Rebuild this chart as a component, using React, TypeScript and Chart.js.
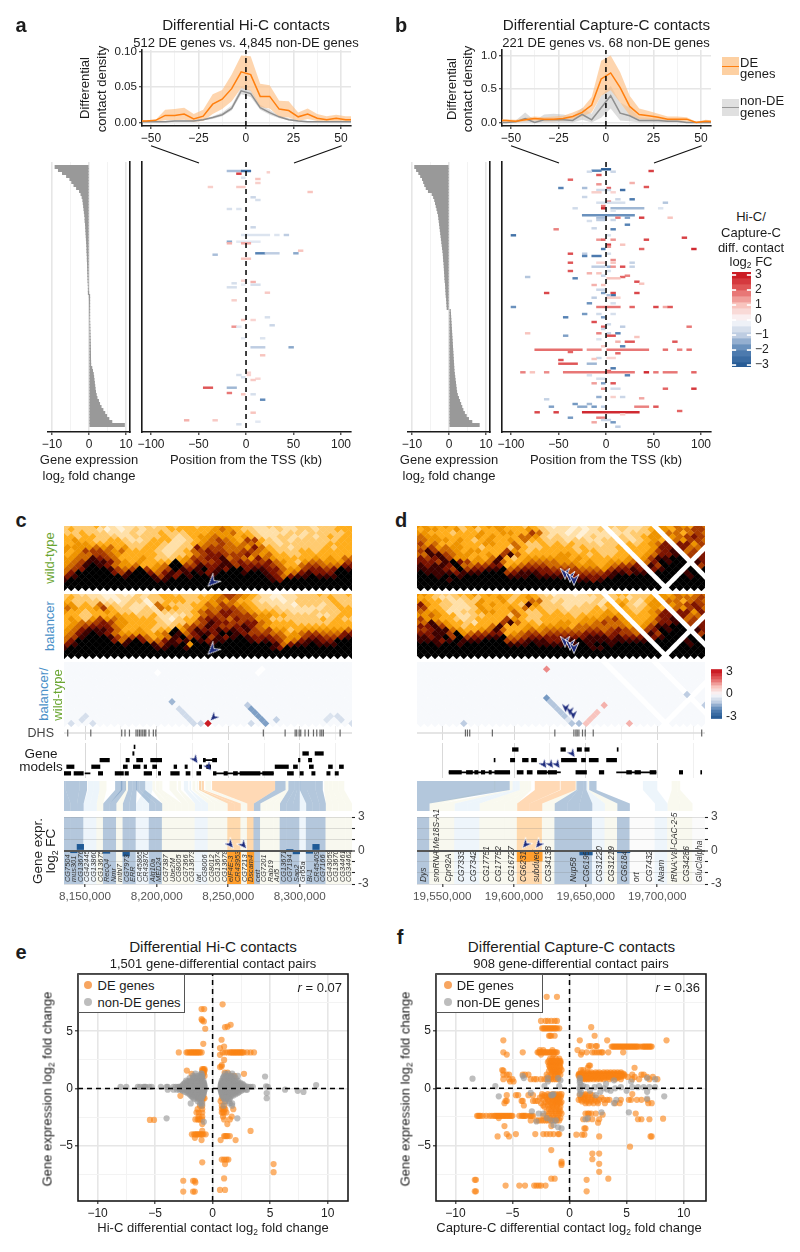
import React, { useEffect, useRef } from "react";
import { Chart, registerables } from "chart.js";
Chart.register(...registerables);

const F = '"Liberation Sans", Arial, sans-serif';

/* ---------- profile panels a / b ---------- */
const binMid = [-57.5,-52.5,-47.5,-42.5,-37.5,-32.5,-27.5,-22.5,-17.5,-12.5,-7.5,-2.5,2.5,7.5,12.5,17.5,22.5,27.5,32.5,37.5,42.5,47.5,52.5,57.5];
const hicDEMean = [.002,.002,.003,.010,.010,.012,.005,.009,.026,.033,.048,.072,.068,.037,.037,.019,.017,.008,.012,.006,.004,.006,.004,.004];
const hicDEHigh = [.003,.003,.004,.018,.019,.021,.012,.018,.040,.046,.068,.095,.094,.055,.053,.031,.030,.014,.020,.012,.009,.011,.009,.009];
const hicDELow = [.001,.001,.001,.003,.003,.004,.001,.002,.012,.019,.030,.049,.045,.022,.020,.008,.007,.002,.005,.002,.001,.002,.001,.001];
const hicNonMean = [.001,.001,.001,.001,.002,.002,.002,.004,.007,.011,.020,.045,.041,.021,.014,.008,.004,.002,.001,.001,.001,.001,.001,.001];
const hicNonHigh = [.002,.002,.002,.002,.003,.003,.003,.005,.009,.014,.024,.050,.046,.025,.018,.010,.006,.003,.002,.002,.002,.002,.002,.002];
const hicNonLow = [.0005,.0005,.0005,.0005,.001,.001,.001,.003,.005,.009,.017,.040,.036,.018,.011,.006,.003,.001,.0005,.0005,.0005,.0005,.0005,.0005];
const capDEMean = [.03,.03,.02,.04,.06,.05,.05,.06,.09,.15,.26,.65,.74,.52,.24,.12,.10,.08,.05,.05,.05,.0,.02,.01];
const capDEHigh = [.05,.05,.04,.07,.09,.08,.09,.10,.15,.21,.38,.92,1.0,.75,.40,.21,.17,.13,.09,.09,.08,.01,.04,.03];
const capDELow = [.01,.01,.0,.02,.03,.02,.02,.03,.05,.09,.15,.40,.48,.30,.11,.05,.04,.03,.02,.02,.01,.0,.0,.0];
const capNonMean = [.0,.0,.01,.06,.0,.04,.04,.04,.03,.12,.04,.22,.40,.14,.10,.03,.03,.03,.02,.02,.0,.0,.0,.0];
const capNonHigh = [.0,.0,.03,.15,.03,.12,.13,.12,.09,.22,.13,.40,.55,.30,.22,.08,.07,.06,.05,.05,.01,.0,.0,.0];
const capNonLow = [.0,.0,.0,.0,.0,.0,.0,.0,.0,.04,.0,.07,.21,.03,.02,.0,.0,.0,.0,.0,.0,.0,.0,.0];

/* ---------- sorted expression, one value per gene-group row ---------- */
const hicExpr = [-9.2,-8.3,-7.2,-6.1,-5.2,-4.7,-4.1,-3.4,-2.6,-2.2,-1.9,-1.7,-1.6,-1.5,-1.4,-1.3,-1.2,-1.1,-1.1,-1,-.95,-.9,-.85,-.8,-.75,-.7,-.65,-.6,-.6,-.55,-.5,-.5,-.45,-.42,-.4,-.38,-.35,-.32,-.3,-.25,-.2,-.15,-.05,.05,.08,.1,.12,.14,.16,.18,.2,.22,.24,.26,.28,.3,.32,.34,.36,.38,.4,.42,.44,.45,.46,.48,.5,.8,1,1.2,1.3,1.4,1.5,1.6,1.7,1.8,2,2.2,2.6,2.9,3.3,3.8,4.3,4.8,5.4,6.2,9.6];
const capExpr = [-9.3,-8.8,-8.2,-7.7,-7.2,-6.9,-6.6,-6.2,-5.6,-4.6,-4.2,-3.9,-3.7,-3.5,-3.3,-3.1,-2.9,-2.8,-2.7,-2.6,-2.5,-2.4,-2.3,-2.2,-2.1,-2,-1.9,-1.8,-1.7,-1.6,-1.55,-1.5,-1.4,-1.35,-1.3,-1.25,-1.2,-1.15,-1.1,-1,-.95,-.9,-.85,-.8,-.7,-.65,-.6,-.55,.4,.45,.5,.55,.6,.65,.7,.75,.8,.85,.9,.95,1,1.05,1.1,1.15,1.2,1.25,1.3,1.35,1.4,1.5,1.6,1.7,1.8,1.9,2,2.1,2.3,2.6,2.9,3.2,3.5,3.8,4.2,4.7,5.3,6.2,8.2];

/* ---------- differential contacts: [gene rank, start kb, end kb, log2FC] ---------- */
const hicSegments = [
[9,-20,-5,-1.2],[9,-5,5,-2.5],[10.3,22,25,.8],[11.7,-10,-5,2.5],[15.7,-5,0,-.5],[17,10,15,1],[21,10,15,.8],[25,-40,-35,.8],[25,-10,0,.9],[30,65,70,1],[35.3,5,10,-.8],[38,10,15,-.6],[47,-20,-15,-.6],[47,-10,-5,-.5],[65.3,5,10,-.8],[73,-5,25,-.5],[73,30,35,-.5],[73,40,45,-1],[79.7,-20,-15,-1.5],[79.7,-10,15,-.4],[81.3,-20,-15,1.2],[81.3,-5,5,1.3],[88.7,55,60,1],[91.3,10,20,-2],[91.3,20,35,-1],[91.3,50,55,-1.5],[92.7,-35,-30,-1.2],[96.7,-5,5,1],
[118.7,-5,0,.7],[120,5,10,1.2],[121.3,-15,-10,-.6],[122.7,-5,0,-.3],[122.7,5,15,-.6],[125.3,-20,-10,-.6],[130.7,20,25,.9],[138.3,-15,-10,.8],[155.3,20,25,-.6],[158,-5,0,1],[158,5,10,.7],[163.3,25,30,-.8],[164.7,-15,-10,1.5],[164.7,-10,-5,-.4],[176.3,-5,0,-.4],[176.3,15,20,-.5],[185.3,5,20,-1],[185.3,45,50,-1.5],[193.3,15,20,1],[210.7,0,5,.7],[213,-10,-5,-.6],[213,0,5,.7],[215.3,-5,0,-.6],[216.7,10,15,.7],[218,5,10,.9],[225.7,-45,-35,2.2],[225.7,-20,-10,-1.3],[231,-20,-15,1.8],[232.3,-5,0,1],[232.3,5,10,-.6],[237.7,15,20,-1.9],[250.7,5,10,1],[258.3,-65,-60,1.2],[258.3,-35,-30,.9],[259.7,10,15,-.4],[262.3,-10,-5,-.6]];
const capSegments = [
[7.3,-5,5,-3],[8.7,-15,-5,-2],[9,45,50,2.5],[9.7,-20,-15,-.7],[9.7,5,10,-.8],[13,-10,-5,2.2],[17.7,-40,-35,2],[21,25,30,1.2],[22.3,-10,-5,1.5],[25,40,45,2.2],[26,-50,-45,-2],[26,-25,-20,-1.2],[26,0,5,2],[28,15,20,-2.5],[28,-10,5,-.7],[30.3,-15,-5,.8],[30.3,5,10,.7],[35,-25,-20,-.8],[37.3,10,15,-.8],[37.3,25,30,-2.2],[39.7,0,5,2],[40.7,-10,20,-.6],[40.7,60,65,-1.1],[44,-5,0,1.8],[46.3,-35,-30,-.7],[46.3,-5,0,2.8],[46.3,5,40,-1.3],[46.3,55,60,-.5],[48.7,5,10,-.5],[53.3,-25,30,-1.8],[55.7,-10,0,-1.2],[55.7,10,15,1.8],[55.7,20,25,-1.6],[55.7,35,40,2.5],[55.7,65,70,1],[58,-10,0,-1],[58,5,10,-.8],[59,-20,-15,-.6],[62.7,20,25,-2],[66.3,-15,-10,-.8],[67.3,-55,-50,1.7],[67.3,5,10,-2],[73.3,-100,-95,-2.4],[73.3,0,5,-.5],[75.7,80,85,2.5],[77.7,-10,-5,1.5],[77.7,-5,0,2],[77.7,5,10,1.5],[77.7,40,45,2.4],[82.7,0,5,2.5],[82.7,15,20,1],[84.7,0,5,1.5],[87,35,40,2],[87,90,95,2.8],[87,-5,0,-2.2],[91.7,-40,-35,2.3],[91.7,-25,-20,-1],[91.7,0,5,-.6],[94,-25,-20,-2],[94,-15,-5,-2.2],[98,5,10,1.6],[100.7,-40,-35,2.2],[100.7,-10,0,.7],[100.7,5,10,1],[100.7,25,30,-.9],[104.7,-15,0,-1],[104.7,0,5,-1.4],[104.7,5,10,1.5],[104.7,15,20,2.3],[104.7,25,30,-.9],[109,-40,-35,2.2],[109,0,5,-.5],[111.3,-20,-15,1.2],[111.3,-10,-5,1],[113.7,-5,0,-.8],[113.7,20,25,1.7],[115,-85,-80,-1.1],[115,15,20,2],[116.3,-35,-30,-2],[116.3,0,15,1],[119.7,30,35,2.3],[121.7,35,40,1],[123,-15,-10,1.2],[123,-5,0,1],[127.7,-10,0,-.8],[131,-65,-60,2.4],[131,30,35,2.4],[131,5,10,2.4],[131,-5,0,-1.6],[133.3,5,10,-2.5],[133.3,0,5,-1.2],[135.7,-15,-10,-1],[135.7,0,15,.8],[141.3,-20,-15,-1.8],[141.3,5,10,-.6],[145,-100,-95,-1.8],[145,-10,15,1.8],[145,25,30,2],[145,50,55,2.4],[145,60,65,1.3],[145,65,70,2.2],[152,-25,-20,-1.7],[152,-10,-5,-.7],[152,5,10,-.6],[155.3,-45,-40,-2],[155.3,-5,0,-1.6],[160,-15,-10,2.3],[162.3,0,5,-.7],[164.7,-5,0,2],[164.7,15,20,-1],[164.7,85,90,1.8],[167,-5,0,-.8],[171.3,-85,-80,1],[171.3,-10,-5,1.7],[171.3,10,15,-2],[171.3,0,5,-.9],[173.7,-45,-40,-1.6],[173.7,0,10,2.3],[175,30,35,1],[177.3,-10,-5,-.5],[179.7,10,15,1.2],[179.7,20,30,2.2],[179.7,70,75,2.2],[184.3,15,20,-2],[184.3,-5,0,.9],[187.7,-75,-25,1.9],[187.7,-20,-5,1.5],[187.7,0,45,1.8],[187.7,60,65,1.9],[187.7,75,80,1.7],[187.7,85,90,1.9],[190,-40,-35,2],[191.3,10,15,2],[196,-10,-5,-.8],[196,0,10,.7],[197,-15,-10,1],[198,-50,-45,2.3],[201.7,-50,-30,2.2],[201.7,-20,-10,-1.3],[206.3,5,10,-2.2],[209,0,5,2],[210.3,-90,-85,1.7],[210.3,-80,-75,1],[210.3,-65,-60,1.6],[210.3,-45,30,1.8],[210.3,40,45,2.8],[210.3,50,55,1.8],[210.3,60,75,1.8],[210.3,90,95,2],[213.3,-20,-15,-.6],[213.3,20,25,-2],[216.7,-10,0,-.6],[221.3,-5,0,-1.6],[221.3,-15,-10,1.4],[221.3,5,10,2.2],[226.7,-5,0,1.5],[226.7,5,15,-.7],[226.7,60,65,2],[226.7,90,95,2.6],[235,-10,-5,-1.4],[235,5,10,.8],[235,15,20,-.8],[236.3,35,40,1.3],[237.3,-65,-60,-.9],[242,-35,-30,-1.7],[242,-20,-15,-1.3],[244.7,-60,-55,-1.6],[244.7,-30,-20,-1.5],[244.7,-15,-10,-1.7],[244.7,-5,0,-1],[244.7,30,45,1.7],[244.7,50,55,2.2],[249,75,80,2],[250.3,-75,-70,2.4],[250.3,-55,-50,2.5],[250.3,-25,35,2.8],[252.3,15,20,.8],[255.7,-40,-35,-1.7],[255.7,-10,0,1.7],[258,-5,5,-.8],[260.3,-15,-10,1.3],[260.3,5,10,-1.7],[264.7,10,15,-1]];

/* ---------- contact maps: rows from far (top) to near (bottom), colour class 0-9 ---------- */
const N9 = "9999999999999999999999999999999999999999";
const mapCWild = ["2222321011121232332334433211221122122233","2322210101212223333334543221112112212233","2232221112122322233344453321111221222223","3323322211222232123445443432112211212323","3433223321123331123456543663212122222233","3344333332223321123455654554221222222333","4444545342233211227566555475322122223233","4346665453333211235676655665432223323333","3455665433333212235677666754533223333333","4455876533343222346677856547543333343435","4568887543433339457667867666754324554446","4568987544533459966877886777765335665557","5679998656964569878978799788775446776798","5799999768997578789878999899876457877799","7899999989998687989989999999875788988899","8999999999999889999999999999987999999999",N9,N9];
const mapCBal = ["2211100100212332222234665431101122232223","2322110011212233322334565432100112222322","3222211012202233322345453321110122222322","4423252212110532223354654432211102221232","5433463221121543223455665432221111112233","4332334322122122223565776543332211122223","3322333433223111123566766654433222211233","3432464543333210233677657664422222223232","3455676443333212235687766775433322222333","3456777543333222356687667875433333333333","4578887533432339468778787865644234444445","4578987544443459857887998766655345665557","5689998656753458967968789877765446776678","5799999758975578789878899987876457887799","7899999989998688949989999999985788988899","8999999999999889989999999999987999999999",N9,N9];
const mapDWild = ["4334323434443323210110011122211234354365","3443342323343334321110101211211234435566","4333233343344336521101011121122243553565","5443333343433355421211012112212344645676","5444343234334353322212211221212343654665","6453343334433532232323222122232345767746","5645443323332532233332322223233347767557","6865543443336432333333233222323346787567","5886544334368533333443323223333457787667","7678644343583234444443433333343468899577","7768976445853345555444343344456579899887","8788795566773456665555444345667686999786","8887696778895677776666555467787878999989","9888878889996788877776666678878889999899","9989989999998889888887777789999999999899","9999899999999999999999887899999999999999",N9,N9];
const mapDBal = ["4322233434333233210110122123322234354355","3321122323343234322111111212212234445556","4332112243342335521211112123321343553565","7432211243433328422211122134421244645676","6332111243334353322212223233322343654675","5443112234433532232322223343332345767747","4543311223332532233332333444333347787557","6443321233336432233333344456433346787567","5854332133368533233443445655433457787667","7786432333583334344443555555543468899577","6788543345853345455555566567654679899887","7788694566773456656666677767665686999786","8789696778895567777777788878777878999989","8887898889996678887788988888888889999899","9989989999998889888888989989999999999899","9999999999999999999999998899999999999999",N9,N9];
const mapBlank = Array(18).fill("0000000000000000000000000000000000000000");
const missingBinsD = [34, 41];
const heatPalette = ["#fff1d6","#ffe0a8","#ffcb70","#ffae1c","#ee9400","#cf6a00","#a83a00","#7d1400","#3c0200","#000000"];

/* ---------- balancer / wild-type cells: [bin, distance, log2FC] ---------- */
const diffCellsC = [[1,0,-.6],[2.5,1,-.6],[3,2,-.6],[4,0,-.6],[15,6,-1.3],[16,4,-.7],[16.5,3,-.7],[17,2,-.7],[17.5,1,-.7],[18,0,-.7],[19,0,-.8],[20,0,3],[25.5,5,-1],[26,0,-.7],[26,4,-1.6],[26.5,3,-1.6],[27,2,-1.6],[27.5,1,-1.6],[28,0,-1.6],[29.5,1,-.9],[36.5,1,-.5],[37,2,-.5],[38,2,-.6],[38.5,1,-.6],[40,0,-.6],[13,14,0],[27.5,15,0],[27,14,0]];
const diffCellsD = [[17.5,15,1.6],[17.5,7,-1.7],[18,6,-1.1],[18.5,5,-1.1],[19,4,-1.1],[19.5,3,-1.1],[20,2,-1.1],[20.5,1,-.5],[21,0,-1.1],[22,0,-1.2],[25.5,5,1.2],[23,0,1],[23.5,1,1],[24,2,1],[24.5,3,1],[29,0,1.2],[37,8,-1],[6,0,-1],[39.5,5,-1]];
const arrowsHeatC = [[20.6,1.5]];
const arrowsDiffC = [[20.8,1.7]];
const arrowsHeatD = [[20.06,3.8],[20.75,2.9],[21.3,2]];
const arrowsDiffD = [[20.15,4.3],[20.75,3.4],[21.2,2.4]];

/* ---------- DHS and gene models, kb ---------- */
const dhsC = [8137.9,8154,8175.6,8177.9,8181,8185.6,8186.8,8188,8189.1,8190.3,8191.4,8192.4,8194.7,8197.7,8199.4,8274.5,8289.7,8296.7,8297.8,8299.5,8300.6,8303.6,8306,8309.5,8311.8,8314.1,8315.3,8316.4,8328.1];
const dhsD = [19566.1,19567.5,19569.1,19584.9,19628.5,19641.8,19643.2,19644.1,19645.3,19647.8,19649.7,19655.3,19731];
const exonsC = [[0,8135.3,8140],[0,8142.3,8148.8],[0,8159.3,8162.3],[0,8171,8176.8],[0,8177.9,8180.3],[0,8191.2,8196.5],[0,8201.2,8202.8],[0,8209.8,8215.8],[0,8220.5,8223.3],[0,8228,8230.8],[0,8239.6,8241.5],[0,8247,8249.4],[0,8253.6,8256.4],[0,8258.2,8272.2],[0,8274,8281.5],[0,8291.3,8295.5],[0,8300.1,8302.4],[0,8308.3,8310.6],[0,8318.8,8321.1],[0,8324.6,8326.9],
[1,8137.2,8142.3],[1,8154.6,8160.4],[1,8176.7,8179.5],[1,8183.7,8188.4],[1,8191.2,8193],[1,8197.2,8200],[1,8212.1,8214],[1,8219.8,8221.4],[1,8229.8,8231.4],[1,8234.9,8237.7],[1,8282.7,8292],[1,8295.5,8298.3],[1,8306.6,8309.4],[1,8320,8322.7],[1,8327.6,8330.4],
[2,8160.4,8167],[2,8178.6,8180.9],[2,8186,8190.2],[2,8195.8,8203.5],[2,8232.6,8234],[2,8239,8241.9],[2,8299,8300.1],[2,8306,8308.3],
[3,8183.3,8184.2],[3,8302,8306],[3,8310.6,8316.4],[4,8184.2,8184.9]];
const intronsC = [[0,8150,8153.5],[0,8239.6,8281.5],[2,8232.6,8241.9]];
const exonsD = [[3.6,19598.9,19602.9],[3.6,19632.7,19635.9],[3.6,19644.1,19647.1],[3.6,19649.4,19652.5],[3.6,19672,19672.7],
[2,19586.1,19586.8],[2,19597.5,19600.5],[2,19605.9,19609.9],[2,19612.2,19615.7],[2,19633.1,19643.6],[2,19647.1,19649.9],[2,19652.5,19658.8],[2,19664.6,19671.6],
[.16,19554.7,19563.3],[.16,19566.8,19571],[.16,19572.6,19574.9],[.16,19577.2,19579.6],[.16,19582.6,19584.2],[.16,19586.6,19597],[.16,19602.2,19606.4],[.16,19609.2,19612.7],[.16,19616.4,19622.7],[.16,19623.8,19629.7],[.16,19643.2,19650.6],[.16,19659.5,19662.7],[.16,19678.6,19682],[.16,19684.4,19688.3],[.16,19694.9,19699.1],[.16,19715.4,19717.7],[.16,19730.3,19731]];
const intronsD = [[.16,19554.7,19597],[.16,19616.4,19632.4],[.16,19671.6,19699.1]];
const geneArrowsC = [[8226.8,2.1],[8236.1,1]];
const geneArrowsD = [[19640.6,3],[19620.8,1.35],[19625.5,1.35],[19630.1,1.35]];

/* ---------- gene columns ---------- */
const genesC = ["CG7504","mus301","CG13676","CG42445","CG13860","CG13675","RecQ4","Nmr","mthl7","CG7973","ERR","CR45865","CR43870","Alg10a","MED24","CG7387","Ube2M","CG8005","CG7366","CG13673","lat","CG8006","CG8012","CG13674","CG13678","eIF4E-3","CR43953","CG7213","Dscam4","cert","CG7201","Rab19","Arl5","CG13671","CG7194","Sap2","Gr65a","Bl-1","CR45409","CG7166","CG43059","CG13670","CG34461","CG34462"];
const classC = "bbbqqpbbpbbqqbbpppppqqpppoopobpppbbbqbbbpppp";
const exprC = [0,-.2,.55,0,0,0,-.25,0,0,-.5,0,0,0,-.07,0,0,0,0,0,0,0,0,0,0,0,-3,-3,0,-3,0,0,0,0,0,.1,-.3,0,-.25,.55,0,0,0,0,0];
const ribbonTopC = [[8135.3,8136.5],[8136.5,8146],[8146,8151.4],[8152,8156],[8156,8160],[8160,8165],[8171,8176],[8175,8178.6],[8178,8180],[8180,8183],[8183,8186],[8192,8194],[8194,8197],[8185.6,8188],[8188,8192],[8197,8199],[8199.5,8202],[8202,8204],[8209,8214],[8215,8217],[8219,8222],[8223,8224],[8225,8227],[8228,8229],[8230,8232],[8229.6,8231],[8231.5,8233],[8234,8238],[8238.7,8282.7],[8282.7,8290],[8290,8291],[8291,8291.8],[8291.8,8292],[8292,8296],[8296,8298],[8298,8300],[8300,8300.5],[8300,8305],[8305,8311],[8311,8316],[8317,8320],[8320,8323],[8323,8327],[8327,8331]];
const genesD = ["Dys","snoRNA:Me18S-A1","Cpr92A","CG7333","CG7342","CG17751","CG17752","CG16727","CG6231","subdued","CG34138","","Nup58","CG6195","CG31220","CG31219","CG6184","ort","CG7432","Naam","tRNA:Val-CAC-2-5","CG34286","GluClalpha"];
const classD = "bppqqpppoopbbbqpbwwqppw";
const exprD = [0,0,0,0,0,0,0,0,-1,-.95,0,-.03,-.1,-.4,0,0,-.2,0,0,0,0,0,0];
const ribbonTopD = [[19532.3,19597],[19586,19587],[19597,19599],[19599,19601],[19601,19604],[19604,19607],[19607,19610],[19610,19612],[19614.5,19632],[19632.5,19643],[19643,19643.6],[19643.6,19644.6],[19644.6,19648.3],[19648.3,19650.6],[19650.6,19651.5],[19651.5,19652.4],[19652.5,19657.6],[19660,19675],[19675,19690],[19690,19700],[19710,19714],[19714,19716],[19728,19733]];
const exprArrowsC = [[8251.3,.55],[8260.5,.5]];
const exprArrowsD = [[19608.2,.55],[19617.3,.55]];

/* ---------- scatter panels e / f: [y, [x...]] ---------- */
const hicDERows = [[7.35,[.87]],[6.94,[-.96,-.73]],[6.06,[-.96]],[5.95,[-.9]],[5.86,[-.76]],[5.22,[-.64]],[5.57,[1.57]],[5.4,[1.3]],[5.36,[1.08]],[4.26,[.78]],[3.9,[-.81]],[3.67,[1]],[3.53,[.64]],[2.94,[.64]],
[3.15,[-2.94,-2.27,-2.15,-2,-1.9,-1.8,-1.7,-1.6,-1.5,-1.4,-1.3,-1.2,-1.1,-.95,.87,1.1,1.3,1.5,1.6,1.7,1.8,1.9,2,2.1,2.2,2.3,2.4,2.5,2.6,2.7,3,3.3,3.6]],
[2.5,[1]],[2.05,[.8]],[1.92,[.78]],[1.87,[.64]],[1.7,[-.9,-.8,-.7]],[1.57,[-2.24,-.9,-.8,-.7]],[1.4,[-.9,-.75,1.05,1.3]],[1.28,[-1.83,2.73,-.8]],[1.1,[-.9,-.7,1.2,1.6,1.9]],[.6,[-1.4,1.2,1.7]],[.3,[-1.1,1.4]],[-.3,[-1.3,1.2]],
[-.64,[-2.8,-1,-.8,.9,1.1]],[-.85,[-1.2,-1.1,-1,-.9,-.8,-.7,.8,1,1.2]],[-1.1,[-.9,.7,1.1]],[-1.5,[-.9,-1.1,.8,1]],[-1.8,[-1.3,-.9,.8,.9,1,1.1,1.8]],[-2.1,[-1.4,-1.2,-.9,.8,.9,1,1.2]],[-2.45,[-.9,-1.2,.9,1.66]],[-2.7,[-1.5,-1.3,-1.2,-1.1,-.9,1,1.5]],[-3.1,[1.28,-.9]],[-3.7,[3.3,-.9]],[-4,[-1.8,-1.6,-1.5,-1.4,-1.3,-1.2,-1.1,-1,-.9,-.8,-.6]],[-4.15,[1,1.1,1.2,1.3,1.5]],[-4.3,[-1.54]],[-4.5,[-.96,.7,2]],
[-2.74,[-5.45,-5.09]],[-6.44,[-.9]],[-6.2,[.8,1,1.2,1.37]],[-6.6,[1.08,5.3]],[-7.3,[5.3]],[-7.85,[1]],[-8.05,[-2.55,-1.7,-1.55]],[-8.2,[-1.5]],[-9,[-2.55,-1.7,-1.55]],[-8.85,[.64,1.08]]];
const hicNonRows = [[.15,[-8,-7.5,-6.5,-6.3,-6,-5.9,-5.8,-5.5,-5.3,-4.5,-4,-3.9,-3.4,-3.2,-3,-2.9,3.1,3.3,3.5,4.8]],[-.1,[-3.9,-3.4,-3.1,-2.9,-2.7,2.9,3,6.3]],[.2,[4.65]],[.3,[9]],[-.2,[7.4]],[-.3,[7.9]],[1.05,[4.56]],[-.4,[4.7]],[-.85,[4.7]],[-2.6,[-4,2.15]],[-2.9,[-.76]],[-1.3,[-1.9]],
[1.3,[-1.5,-1,-.95,1.1,1.35,1.7]],[1.1,[-1.7,-1.4,-1.2,-1,-.9,1,1.2,1.5,1.8,2.2]],[.9,[-2,-1.7,-1.5,-1.3,-1.1,-.95,.9,1.1,1.3,1.5,1.7,2]],[.7,[-2.3,-2,-1.8,-1.6,-1.4,-1.2,-1,-.8,.8,1,1.2,1.4,1.6,1.9,2.2]],[.5,[-2.4,-2.1,-1.9,-1.7,-1.5,-1.3,-1.1,-.9,-.75,.75,.9,1.1,1.3,1.5,1.7,2,2.4]],[.3,[-2.6,-2.3,-2,-1.8,-1.6,-1.4,-1.2,-1,-.8,-.7,.7,.85,1,1.2,1.4,1.6,1.8,2.1,2.5,2.7]],[.1,[-2.8,-2.5,-2.2,-2,-1.8,-1.6,-1.4,-1.2,-1,-.8,-.7,.7,.85,1,1.2,1.4,1.6,1.8,2,2.3,2.6,2.8]],[-.1,[-2.7,-2.4,-2.1,-1.9,-1.7,-1.5,-1.3,-1.1,-.9,-.7,.7,.85,1,1.2,1.4,1.6,1.8,2,2.3,2.6]],[-.3,[-2.4,-2.1,-1.9,-1.7,-1.5,-1.3,-1.1,-.9,-.75,.75,.9,1.1,1.3,1.5,1.7,2,2.3]],[-.5,[-2,-1.8,-1.6,-1.4,-1.2,-1,-.8,.8,1,1.2,1.4,1.7,2]],[-.7,[-1.8,-1.5,-1.3,-1.1,-.9,.9,1.1,1.3,1.6]],[-.9,[-1.6,-1.3,-1,1,1.2,1.5]],[-1.1,[-1.3,-1,1.1,1.4]],[-1.3,[-1.1,-.9,1.5,1.7]],[-1.5,[-.95,.95,1.7]],
[1,[-1.6,-1.1,-.9,.95,1.4,1.65]],[.6,[-2.2,-1.9,-1.5,-1.1,-.85,.85,1.1,1.5,1.8,2.1]],[.4,[-2.5,-2.2,-1.8,-1.4,-1,-.75,.75,1,1.4,1.9,2.3,2.6]],[.2,[-2.7,-2.4,-1.9,-1.5,-1.1,-.72,.72,1.1,1.5,1.9,2.4,2.9]],[0,[-2.9,-2.6,-2.3,-1.9,-1.5,-1.1,-.72,.72,1.1,1.5,1.9,2.2,2.5,2.7]],[-.2,[-2.6,-2.2,-1.8,-1.4,-1,-.72,.72,1,1.4,1.9,2.2,2.5]],[-.4,[-2.2,-1.8,-1.4,-1,-.78,.78,1.1,1.5,1.9,2.2]],[-.6,[-1.9,-1.5,-1.1,-.85,.85,1.2,1.5,1.8]],[-.8,[-1.7,-1.2,-.95,.95,1.2,1.4]]];
const capDERows = [[8,[-2,-1.1]],[5.9,[-2.5,-2.1,-1.9,-1.6,-1.3,-1.1]],[5.25,[-2.4,-2.3,-2.2,-2.1,-2,-1.9,-1.8,-1.7,-1.6,-1.5,-1.4,-1.3,-1.2,-1.1,-.9]],[4.6,[-1.8,-1.7,-1.6,-1.3,2.2]],[5.35,[1.9]],[4.2,[-5.8,.9,3.3,8.5]],
[3.15,[-5.8,-4.1,-2.8,-2.7,-2.6,-2.5,-2.4,-2.3,-2.2,-2.1,-2,-1.9,-1.8,-1.7,-1.6,-1.5,-1.4,-1.3,-1.2,-1.1,1.1,1.5,2,2.2,2.4,2.6,2.8,2.9,3.4,4.7]],[3.35,[-2.6,-2.3,-1.5,.7]],[2.95,[-5.5,-2.5,-1.4,1]],[3.7,[1.7,1.9,2.3,2.4]],
[3.65,[3.7,3.8,3.9,4,4.1,4.2,4.3,4.4,4.5,4.6,4.7,4.8,4.9,5,5.1,5.2,5.3,5.4,5.5,5.6,5.7,5.8,5.9,6,6.2,6.4,6.5,6.6,6.7,6.8,6.9,7,7.1,7.2]],
[2.6,[-1.7,-1.5,-1.2,-.9]],[2.4,[-1.8,-1.6,-1.5,-1.4,-1.3,-1.1,-.9,-.8]],[2.3,[-1.9,-1.6,-1.4,-1.2,-1,-.8]],[2.2,[-1.7,-1.5,-1.3,-1.2,-1,-.8]],[2,[-1.8,-1.6,-1.4,-1.2,-.9,1.7,1.8]],[1.9,[-1.7,-1.5,-1.3,-1.1,-.85]],[1.8,[-1.7,-1.5,-1.3,-1.1,-.8,5.7,1.6]],[1.6,[-5.9,-1.6,-1.4,-1.2,-1,-.7,1,1.2]],[1.55,[-5.8]],[1.5,[-1.8,-1.5,-1.3,-1.1,-.9]],[1.4,[-1.5,-1.3,-1.1,-.9,1.2,1.6,1.9,2.3,2.6,3,3.3,3.6,3.9,4.2,4.5]],
[1.3,[.85,1,1.2,1.5,1.7,1.9,2.1,2.3,2.5,2.7,2.9,3.1,3.3,3.5,3.7,3.9,4.1,4.3,4.5,4.7]],
[1.2,[-5.8,-5.5,-5.3,-4.1,-3.9,-3.6,-2,-1.6,-1.3,-1.1,-.8,.8,.9,1.1,1.4,1.6,1.8,2,2.2,2.4,2.6,2.8,3,3.2,3.4,3.6,3.8,4,4.2,4.4,4.6,4.8,5.5,6.3,6.5]],
[1.1,[.8,.95,1.2,1.4,1.6,1.8,2,2.2,2.4,2.6,2.8,3,3.2,3.4,3.6,3.8,4,4.2,4.4,4.6,4.8]],
[1,[-1.9,-1.6,-1.3,-1,1.1,1.3,1.5,1.7,1.9,2.1,2.3,2.5,2.7,2.9,3.1,3.3,3.5,3.7,3.9,4.1,4.3,4.5,5.1,5.7,6.8,7.3]],
[.9,[.9,1.1,1.3,1.5,1.7,1.9,2.2,2.5,2.8,3.2,3.7,4.2]],
[.8,[-5.8,-5.3,-5,-3.4,-3.1,-2.9,-2.5,-2.2,-2,-1.8,-1.6,-1.4,-1.2,-1,1.2,1.4,1.6,1.8,2.1,2.4,2.7,3,3.5,4,4.5,5.5,6.1,7,7.7]],[.6,[-5.2,-4.9]],
[-.5,[-2.4,-1.9,-1.5,-1.2,-.9,-.7,5.5,1.4,1.8]],[-.6,[-5.5,-4.7,-4.5,-3.6,-3.2,-2.2,-1.7,-1.3,-1,.9,1.1,1.3,1.6,2]],[-.7,[-2.4,-2.1,-1.8,-1.5,-1.2,-.95,-.75]],[-.8,[-2.6,-2,-1.6,-1.3,-1,-.8,1,1.2,1.4,1.6,2,2.3,2.8]],[-1,[-2.3,-1.9,-1.5,-1.2,-.9,.8,1,1.3,1.6,1.9,2.2,2.6,3,3.3,3.5,4.5,5.2,5.4,5.9,6.3,6.8]],[-1.1,[-5.5,-5.6,-4.2,-4.1,-3.2,-3,-2.8,-1.8,-1.4,-1.1]],[-1.15,[1.1,1.5,1.9,2.4]],[-1.2,[-2.1,-1.9,-1.5,-1.2,-.9,-.7]],[-1.3,[-5.7,-2.5,-1.6,-1.3,-1,-.8,1.4,1.7,2.1,2.5,3.1,4,4.4,6.9,7.2]],[-1.5,[-4,-2.3,-1.9,-1.5,-1.1]],[-1.6,[-2.2,-1.7,-1.4,-1.1,-.8]],[-1.8,[-1.8,-1.5,-1.2,-.9]],[-2,[-2,-1.6,-1.3,-1,-.8]],[-2.2,[-1.8,-1.5,-1.2,-.9,-.7,1.4,1.6,1.7,1.9,2.3,5.8]],
[-2.4,[-8.1,-8,-7.9,-7.8,-7.6,-7.3,-7,-6.8,-6.6,-6.5,-6.4,-6.3,-6.2,-6.1,-6,-5.9,-5.8,-5.7,-5.6,-5.5,-5.4,-5.3,-5.2,-5.1,-5,-4.4,-4.2,-4.1,-4,-3.9,-3.8,-3.5,-3.4,-3.3,-3.2,-2.3,-1.9,-1.4,-1]],[-2.6,[-6.2,-2,-1.7,-1.4,-1.1,-.8]],[-2.8,[-3.4,-2.9,-2.7,-2.5,-2.3,-2.1,-1.9,-1.7,-1.5,-1.3,-1.1,-.9]],[-3.3,[-5.7,-1.6]],
[-4,[-5.5,-4.7,-3,-2.3,-2,-1.7,-1.4,-1,-.9]],[-4.2,[-6.3,-5.3,2.6,7.1,7.2]],
[-2.3,[2.9]],[-2.7,[1.2,1.6,2,2.6,6,6.3,7]],[-3,[2.5]],[-2.65,[8.2]],[-3.5,[1.3,1.4]],[-4.05,[.6,1.1,1.3]],[-5.1,[5.3]],[-5.7,[2,2.6]],[-6.2,[2]],[-6.6,[2.6]],[-7.3,[2.6]],[-7.9,[3.4,-1.6,-1.3]],[-8,[1.5,-8.3,-8.2]],[-9,[1.5,-8.3,-8.2]],[-5.4,[-1.6]],[-6.4,[-.7]],[-6.55,[-.7]],[-6.7,[-.7]],[-8.5,[-5.6,-4.4,-3.9,-3.1,-2.9,-2.7,-2.5,-2.1]]];
const capNonPoints = [[-8.5,.85],[-6.5,.2],[-6.2,-.7],[-4,.9],[-4.1,1.1],[-3.4,-.4],[-3.3,-2],[-2.9,-2.9],[-2.7,-2.2],[-2.3,-2.2],[-2,-2.6],[-1.9,.9],[-2.2,.2],[-1.9,.6],[-1.6,-.6],[-1.4,-.5],[-1.5,-.6],[-1,-3.4],[-.7,-3.5],[-1.2,-2.8],[-1,.9],[-.8,.7],[-.9,.2],[.9,.9],[.9,.7],[.9,.5],[1,.3],[.9,.1],[.9,-.1],[1,-.3],[.9,-.5],[1.4,-2.7],[1.6,-2.6],[2.8,-2.1],[2.2,.1],[2.6,.2],[3,0],[3.3,-.1],[3.6,-.2],[4,0],[4.5,.1],[5,-.2],[5.5,.1],[6,.1],[6.5,.1],[7,.1],[7.5,.1],[6.8,-.3],[6.8,.9],[7.5,.8],[8.3,-.7],[5.2,-2.1],[3.9,-1.3],[4.1,-1],[2.3,-.6],[2.7,-.3],[3.2,.4],[1.2,.2],[1.5,.1],[1.8,-.2],[3.9,.7],[5.4,.6],[6.8,-.9],[-1.4,-3.2],[-1.6,-2.8]];

/* ---------- colour-bar levels ---------- */
const barLevels = [-3,-2.6,-2.2,-1.8,-1.4,-1,-.6,-.2,.2,.6,1,1.4,1.8,2.2,2.6,3];
const barTicks = [-3,-2,-1,0,1,2,3];

/* ---------- helpers ---------- */
const ORANGE = "#ff7f0e";
const minus = (v: number) => (v < 0 ? "\u2212" + Math.abs(v) : String(v));
const stops: [number, number[]][] = [[-3,[40,92,150]],[-2,[85,130,180]],[-1,[190,205,226]],[0,[250,250,252]],[1,[248,196,190]],[2,[228,100,100]],[3,[203,28,36]]];
function fc(v: number) {
  const c = Math.max(-3, Math.min(3, v));
  for (let i = 0; i < 6; i++) {
    const [a, ca] = stops[i], [b, cb] = stops[i + 1];
    if (c <= b) {
      const t = (c - a) / (b - a);
      return `rgb(${ca.map((x, j) => Math.round(x + (cb[j] - x) * t)).join(",")})`;
    }
  }
  return "rgb(203,28,36)";
}
function axis(o: any) {
  const maj = o.major || [], mnr = o.minor || [];
  const isMaj = (v: number) => maj.includes(v);
  return {
    type: "linear", min: o.min, max: o.max, reverse: !!o.reverse, position: o.pos, offset: false,
    afterFit: (s: any) => { if (s.isHorizontal()) s.height = o.size; else s.width = o.size; },
    afterBuildTicks: (s: any) => { s.ticks = [...maj, ...mnr].sort((a: number, b: number) => a - b).map((v: number) => ({ value: v })); },
    border: { display: !!o.line, color: "#1a1a1a", width: o.lineW ?? 1.6 },
    grid: {
      display: true, offset: false, drawOnChartArea: !!o.grid, drawTicks: !!o.tick, tickLength: 3, tickWidth: 1.1, z: o.gridZ || 0,
      tickColor: (c: any) => (c.tick && (isMaj(c.tick.value) || o.tickAll) ? "#222" : "rgba(0,0,0,0)"),
      color: (c: any) => (o.gridColor ? o.gridColor(c.tick?.value, isMaj(c.tick?.value)) : isMaj(c.tick?.value) ? "#e6e6e6" : "#f3f3f3"),
      lineWidth: (c: any) => (o.gridWidth ? o.gridWidth(c.tick?.value) : isMaj(c.tick?.value) ? 1.6 : 1),
    },
    ticks: {
      display: o.labels !== false && maj.length > 0, autoSkip: false, maxRotation: 0, minRotation: 0,
      font: { family: F, size: o.fs || 12 }, color: o.tc || "#222", padding: o.pad ?? 2,
      callback: (v: number) => (isMaj(v) ? (o.fmt ? o.fmt(v) : minus(v)) : ""),
    },
  };
}
function options(m: any, scales: any, rightAxis = false) {
  return {
    animation: false, responsive: false, maintainAspectRatio: false,
    layout: { autoPadding: false, padding: { top: m.t, bottom: 0, left: rightAxis ? m.l : 0, right: rightAxis ? 0 : m.r } },
    plugins: { legend: { display: false }, tooltip: { enabled: false }, title: { display: false } },
    events: [], scales,
  };
}
const dashed = (pts: number[][]) => ({ type: "scatter", showLine: true, data: pts.map(([x, y]) => ({ x, y })), borderColor: "#000", borderWidth: 1.5, borderDash: [5, 4], pointRadius: 0, fill: false, clip: 0 });
function makeArrow(size: number, halo: boolean) {
  const c = document.createElement("canvas");
  c.width = size; c.height = size;
  const g = c.getContext("2d") as CanvasRenderingContext2D;
  const s = size / 12;
  g.beginPath();
  g.moveTo(6 * s, 10.5 * s); g.lineTo(2 * s, 1.5 * s); g.lineTo(6 * s, 4.5 * s); g.lineTo(10 * s, 1.5 * s); g.closePath();
  if (halo) { g.strokeStyle = "#fff"; g.lineWidth = 1.4; g.stroke(); }
  g.fillStyle = "#1c2a7c"; g.fill();
  return c;
}
const arrowSet = (pts: number[][], size: number, halo: boolean, rot: number) => ({ type: "scatter", data: pts.map(([x, y]) => ({ x, y })), pointStyle: makeArrow(size, halo), pointRadius: 5, pointRotation: rot, clip: 0 });
function heatCells(rows: string[], missing: number[], pal: string[], gap?: string) {
  const data: any[] = [], cols: string[] = [];
  rows.forEach((r, ri) => {
    const d = rows.length - 1 - ri, off = (d % 2) / 2;
    for (let k = -1; k <= 41; k++) {
      const x = k + off;
      const miss = missing.includes(x - d / 2) || missing.includes(x + d / 2);
      if (miss && !gap) continue;
      data.push({ x, y: d });
      cols.push(miss ? (gap as string) : pal[+r[Math.max(0, Math.min(39, k))]]);
    }
  });
  return { data, cols };
}
function heatConfig(m: any, rows: string[], x0: number, x1: number, missing: number[], arrows: number[][], size: number, rot: number) {
  const c = heatCells(rows, missing, heatPalette);
  return {
    type: "scatter",
    data: { datasets: [arrowSet(arrows, size, true, rot), { data: c.data, pointStyle: "rectRot", pointRadius: 3.85, pointBackgroundColor: c.cols, pointBorderWidth: 0, clip: 0 }] },
    options: options(m, { x: axis({ min: x0, max: x1, size: 0, pos: "bottom", labels: false }), y: axis({ min: -1, max: 16.97, size: 0, pos: "left", labels: false }) }),
  };
}
function diffConfig(m: any, cells: number[][], x0: number, x1: number, missing: number[], arrows: number[][], rot: number) {
  const c = heatCells(mapBlank, missing, ["#f7f9fc"], "#ffffff");
  return {
    type: "scatter",
    data: { datasets: [
      arrowSet(arrows, 11, false, rot),
      { data: cells.map(([x, y]) => ({ x, y })), pointStyle: "rectRot", pointRadius: 3.7, pointBackgroundColor: cells.map((k) => (k[2] === 0 ? "#ffffff" : fc(k[2]))), pointBorderWidth: 0, clip: 0 },
      { data: c.data, pointStyle: "rectRot", pointRadius: 3.85, pointBackgroundColor: c.cols, pointBorderWidth: 0, clip: 0 },
    ] },
    options: options(m, { x: axis({ min: x0, max: x1, size: 0, pos: "bottom", labels: false }), y: axis({ min: -1, max: 16.97, size: 0, pos: "left", labels: false }) }),
  };
}
const trackGrid = (v: number, maj: boolean) => (maj ? "#d9d9d9" : "#f0f0f0");
function dhsConfig(m: any, pos: number[], x0: number, x1: number, maj: number[], mnr: number[], showLine = true) {
  return {
    type: "scatter",
    data: { datasets: [
      { data: pos.map((x) => ({ x, y: 0 })), pointStyle: "line", pointRotation: 90, pointRadius: 3.5, pointBorderColor: "#666", pointBorderWidth: 1.2, clip: 0 },
      { showLine, data: [{ x: x0, y: 0 }, { x: x1, y: 0 }], borderColor: "#dcdcdc", borderWidth: 1.6, pointRadius: 0 },
    ] },
    options: options(m, { x: axis({ min: x0, max: x1, size: 0, pos: "bottom", labels: false, grid: true, major: maj, minor: mnr, gridColor: trackGrid, gridWidth: () => 1 }), y: axis({ min: -1, max: 1, size: 0, pos: "left", labels: false }) }),
  };
}
function geneConfig(m: any, exons: number[][], introns: number[][], arrows: number[][], x0: number, x1: number, maj: number[], mnr: number[]) {
  const bar = (rows: number[][], t: number) => ({ type: "bar", grouped: false, indexAxis: "y", barThickness: t, backgroundColor: "#000", data: rows.map(([y, a, b]) => ({ y, x: [a, b] })) });
  return {
    type: "scatter",
    data: { datasets: [arrowSet(arrows, 11, false, -35), bar(exons, 3.6), bar(introns, 1.1)] },
    options: options(m, { x: axis({ min: x0, max: x1, size: 0, pos: "bottom", labels: false, grid: true, major: maj, minor: mnr, gridColor: trackGrid, gridWidth: () => 1 }), y: axis({ min: -.7, max: 4.58, size: 0, pos: "left", labels: false }) }),
  };
}
const classFill: any = { b: "rgba(103,143,185,.5)", o: "rgba(255,170,90,.45)", p: "rgba(240,240,215,.4)", q: "rgba(215,232,246,.45)", w: "rgba(255,255,255,0)" };
const classCol: any = { b: "#b4c7dc", o: "#ffd9ad", p: "#f8f8ef", q: "#eef5fb", w: "#fbfbfb" };
function ribbonConfig(m: any, tops: number[][], cls: string, x0: number, x1: number) {
  const n = tops.length;
  const poly = (i: number) => {
    const [a, b] = tops[i];
    const sL = x0 + ((x1 - x0) * i) / n, sR = x0 + ((x1 - x0) * (i + 1)) / n;
    return { type: "scatter", showLine: true, fill: "shape", backgroundColor: classFill[cls[i]], borderWidth: 0, pointRadius: 0,
      data: [[a, 1], [b, 1], [b, .7], [sR, .25], [sR, 0], [sL, 0], [sL, .25], [a, .7]].map(([x, y]) => ({ x, y })) };
  };
  const strong = tops.map((_, i) => i).filter((i) => cls[i] === "b" || cls[i] === "o");
  const pale = tops.map((_, i) => i).filter((i) => cls[i] !== "b" && cls[i] !== "o");
  return {
    type: "scatter",
    data: { datasets: [...strong, ...pale].map(poly) },
    options: options(m, { x: axis({ min: x0, max: x1, size: 0, pos: "bottom", labels: false }), y: axis({ min: 0, max: 1, size: 0, pos: "left", labels: false }) }),
  };
}
function exprConfig(m: any, names: string[], cls: string, vals: number[], arrows: number[][], rot: number, x0: number, x1: number, maj: number[], fsz: number) {
  return {
    type: "bar",
    data: { labels: names, datasets: [
      arrowSet(arrows, 11, true, rot),
      { type: "bar", xAxisID: "xs", grouped: false, barPercentage: 1, categoryPercentage: 1, data: vals.map((v) => [0, v]), backgroundColor: vals.map((v, i) => (cls[i] === "o" ? "#ff9e2c" : "#1f5a96")) },
      { type: "bar", xAxisID: "xs", grouped: false, barPercentage: 1, categoryPercentage: 1, data: names.map(() => [-3, 3]), backgroundColor: names.map((_, i) => classCol[cls[i]]) },
    ] },
    plugins: [{ id: "slotNames", afterDatasetsDraw(ch: any) {
      const g = ch.ctx, xs = ch.scales.xs;
      g.save(); g.font = `italic ${fsz}px ${F}`; g.fillStyle = "#333";
      names.forEach((n, i) => { g.save(); g.translate(xs.getPixelForValue(i) + fsz * .35, ch.chartArea.bottom - 2); g.rotate(-Math.PI / 2); g.fillText(n, 0, 0); g.restore(); });
      g.restore();
    } }],
    options: options(m, {
      x: axis({ min: x0, max: x1, size: m.b, pos: "bottom", major: maj, tick: true, fs: 11.7, tc: "#555", pad: 3, fmt: (v: number) => (v * 1000).toLocaleString("en-US") }),
      xs: { type: "category", axis: "x", display: false, offset: true, grid: { offset: true } },
      y: axis({ min: -3, max: 3, size: m.r, pos: "right", major: [-3, 0, 3], minor: [-2, -1, 1, 2], tick: true, tickAll: true, grid: true, gridZ: 1, tc: "#444", fs: 12, pad: 3,
        fmt: (v: number) => String(v), gridColor: (v: number) => (v === 0 ? "#555" : "rgba(120,120,120,.22)"), gridWidth: (v: number) => (v === 0 ? 2 : 1) }),
    }, true),
  };
}
function profileConfig(m: any, series: number[][], yMin: number, yMax: number, yMaj: number[], fmt: (v: number) => string) {
  const pts = (a: number[]) => a.map((y, i) => ({ x: binMid[i], y }));
  const [dm, dh, dl, nm, nh, nl] = series;
  const line = (a: number[], c: string, w: number) => ({ type: "scatter", showLine: true, data: pts(a), borderColor: c, borderWidth: w, pointRadius: 0, fill: false });
  const band = (a: number[], c: string, fill: any) => ({ type: "scatter", showLine: true, data: pts(a), borderWidth: 0, pointRadius: 0, backgroundColor: c, fill });
  return {
    type: "scatter",
    data: { datasets: [
      dashed([[0, yMin], [0, yMax]]), line(dm, ORANGE, 1.5), line(nm, "#8f8f8f", 1.5),
      band(dh, "rgba(253,190,130,.65)", "+1"), band(dl, "rgba(0,0,0,0)", false),
      band(nh, "rgba(170,170,170,.4)", "+1"), band(nl, "rgba(0,0,0,0)", false),
    ] },
    options: options(m, {
      x: axis({ min: -54.7, max: 55.3, size: m.b, pos: "bottom", major: [-50, -25, 0, 25, 50], minor: [-37.5, -12.5, 12.5, 37.5], line: true, grid: true, tick: true }),
      y: axis({ min: yMin, max: yMax, size: m.l, pos: "left", major: yMaj, line: true, grid: true, tick: true, fmt, fs: 11.6 }),
    }),
  };
}
function exprBarConfig(m: any, vals: number[], x0: number, x1: number) {
  return {
    type: "scatter",
    data: { datasets: [{ type: "bar", indexAxis: "y", grouped: false, barThickness: 3.3, backgroundColor: "#999999", data: vals.map((v, i) => ({ y: i, x: [0, v] })) }] },
    options: options(m, {
      x: axis({ min: x0, max: x1, size: m.b, pos: "bottom", major: [-10, 0, 10], minor: [-5, 5], line: true, grid: true, tick: true, pad: 2 }),
      y: axis({ min: -1.67, max: 88.33, size: m.r, pos: "right", reverse: true, line: true, labels: false }),
    }, true),
  };
}
function segmentConfig(m: any, segs: number[][]) {
  return {
    type: "scatter",
    data: { datasets: [
      dashed([[0, 0], [0, 270]]),
      { type: "bar", indexAxis: "y", grouped: false, barThickness: 1.8, backgroundColor: segs.map((s) => fc(s[3])), data: segs.map((s) => ({ y: s[0], x: [s[1], s[2]] })) },
    ] },
    options: options(m, {
      x: axis({ min: -109.5, max: 110.5, size: m.b, pos: "bottom", major: [-100, -50, 0, 50, 100], line: true, tick: true }),
      y: axis({ min: 0, max: 270, size: m.l, pos: "left", reverse: true, line: true, labels: false }),
    }),
  };
}
const rowsToPts = (rows: any[]) => rows.flatMap(([y, xs]: any) => xs.map((x: number) => ({ x, y })));
function scatterConfig(m: any, de: any[], non: any[], x0: number, x1: number, y0: number, y1: number) {
  const pt = (data: any[], c: string) => ({ type: "scatter", data, pointRadius: 3.1, pointBackgroundColor: c, pointBorderWidth: 0, clip: 0 });
  return {
    type: "scatter",
    data: { datasets: [
      dashed([[0, y0], [0, y1]]), dashed([[x0, 0], [x1, 0]]),
      pt(non, "rgba(150,150,150,.62)"), pt(de, "rgba(250,130,20,.62)"),
    ] },
    plugins: [{ id: "frame", afterDatasetsDraw(ch: any) {
      const a = ch.chartArea, g = ch.ctx;
      g.save(); g.strokeStyle = "#1a1a1a"; g.lineWidth = 1.6; g.strokeRect(a.left, a.top, a.width, a.height); g.restore();
    } }],
    options: options(m, {
      x: axis({ min: x0, max: x1, size: m.b, pos: "bottom", major: [-10, -5, 0, 5, 10], minor: [-7.5, -2.5, 2.5, 7.5], grid: true, tick: true }),
      y: axis({ min: y0, max: y1, size: m.l, pos: "left", major: [-5, 0, 5], minor: [-7.5, -2.5, 2.5, 7.5], grid: true, tick: true }),
    }),
  };
}
function colorBarConfig(m: any, y0: number, y1: number, thick: number, maj: number[], fsz: number, fmt: (v: number) => string, marks: number[]) {
  return {
    type: "scatter",
    data: { datasets: [
      { type: "bar", indexAxis: "y", grouped: false, barThickness: 1, backgroundColor: "#ffffff", data: marks.flatMap((y) => [{ y, x: [0, .2] }, { y, x: [.8, 1] }]) },
      { type: "bar", indexAxis: "y", grouped: false, barThickness: thick, backgroundColor: barLevels.map(fc), data: barLevels.map((y) => ({ y, x: [0, 1] })) },
    ] },
    options: options(m, {
      x: axis({ min: 0, max: 1, size: m.b, pos: "bottom", labels: false }),
      y: axis({ min: y0, max: y1, size: m.r, pos: "right", major: maj, fs: fsz, fmt, pad: 4 }),
    }, true),
  };
}

const MC = { l: 0, r: 0, t: 0, b: 0 };
const kC: [number, number] = [8135.3, 8336.4];
const kD: [number, number] = [19532.3, 19733.3];
const majC = [8150, 8200, 8250, 8300], mnrC = [8175, 8225, 8275, 8325];
const majD = [19550, 19600, 19650, 19700], mnrD = [19575, 19625, 19675, 19725];

const PANELS: any[] = [
  { r: [142, 50, 209, 76], m: { l: 40, r: 14, t: 12, b: 24 }, c: (m: any) => profileConfig(m, [hicDEMean, hicDEHigh, hicDELow, hicNonMean, hicNonHigh, hicNonLow], -.005, .1029, [0, .05, .1], (v) => v.toFixed(2)) },
  { r: [502, 50, 209, 76], m: { l: 40, r: 14, t: 12, b: 24 }, c: (m: any) => profileConfig(m, [capDEMean, capDEHigh, capDELow, capNonMean, capNonHigh, capNonLow], -.052, 1.082, [0, .5, 1], (v) => v.toFixed(1)) },
  { r: [48, 162, 82, 270], m: { l: 14, r: 14, t: 2, b: 24 }, c: (m: any) => exprBarConfig(m, hicExpr, -11.08, 11.08) },
  { r: [142, 162, 209, 270], m: { l: 18, r: 16, t: 2, b: 24 }, c: (m: any) => segmentConfig(m, hicSegments) },
  { r: [408, 162, 82, 270], m: { l: 14, r: 14, t: 2, b: 24 }, c: (m: any) => exprBarConfig(m, capExpr, -11.08, 11.08) },
  { r: [502, 162, 209, 270], m: { l: 18, r: 16, t: 2, b: 24 }, c: (m: any) => segmentConfig(m, capSegments) },
  { r: [732, 272, 19, 95], m: { l: 0, r: 30, t: 12, b: 12 }, c: (m: any) => colorBarConfig(m, -3.13, 3.2, 6.1, barTicks, 12.2, minus, [-3, -2, -1, 0, 1, 2, 3]) },
  { r: [711, 669, 10.5, 52], m: { l: 0, r: 26, t: 12, b: 12 }, c: (m: any) => colorBarConfig(m, -3.55, 3.29, 3.4, [-3, 0, 3], 12.2, (v) => String(v), []) },

  { r: [64, 526, 288, 64.7], m: MC, c: (m: any) => heatConfig(m, mapCWild, 0, 40, [], arrowsHeatC, 14, 45) },
  { r: [64, 593.5, 288, 64.7], m: MC, c: (m: any) => heatConfig(m, mapCBal, 0, 40, [], arrowsHeatC, 14, 45) },
  { r: [64, 661.7, 288, 64.7], m: MC, c: (m: any) => diffConfig(m, diffCellsC, 0, 40, [], arrowsDiffC, 45) },
  { r: [64, 726, 288, 14], m: MC, c: (m: any) => dhsConfig(m, dhsC, kC[0], kC[1], majC, mnrC) },
  { r: [64, 743, 288, 35], m: MC, c: (m: any) => geneConfig(m, exonsC, intronsC, geneArrowsC, kC[0], kC[1], majC, mnrC) },
  { r: [64, 781, 288, 30], m: MC, c: (m: any) => ribbonConfig(m, ribbonTopC, classC, kC[0], kC[1]) },
  { r: [64, 817.3, 288, 67], m: { l: 36, r: 24, t: 12, b: 24 }, c: (m: any) => exprConfig(m, genesC, classC, exprC, exprArrowsC, -40, kC[0], kC[1], majC, 7.4) },

  { r: [417, 526, 288, 64.7], m: MC, c: (m: any) => heatConfig(m, mapDWild, -.5, 39.5, missingBinsD, arrowsHeatD, 12, 0) },
  { r: [417, 593.5, 288, 64.7], m: MC, c: (m: any) => heatConfig(m, mapDBal, -.5, 39.5, missingBinsD, arrowsHeatD, 12, 0) },
  { r: [417, 661.7, 288, 64.7], m: MC, c: (m: any) => diffConfig(m, diffCellsD, -.5, 39.5, missingBinsD, arrowsDiffD, 0) },
  { r: [417, 726, 288, 14], m: MC, c: (m: any) => dhsConfig(m, dhsD, kD[0], kD[1], majD, mnrD) },
  { r: [417, 743, 288, 35], m: MC, c: (m: any) => geneConfig(m, exonsD, intronsD, geneArrowsD, kD[0], kD[1], majD, mnrD) },
  { r: [417, 781, 288, 30], m: MC, c: (m: any) => ribbonConfig(m, ribbonTopD, classD, kD[0], kD[1]) },
  { r: [417, 817.3, 288, 67], m: { l: 36, r: 24, t: 12, b: 24 }, c: (m: any) => exprConfig(m, genesD, classD, exprD, exprArrowsD, 40, kD[0], kD[1], majD, 8.4) },

  { r: [78.3, 974.3, 269.4, 226.7], m: { l: 24, r: 12, t: 12, b: 22 }, c: (m: any) => scatterConfig(m, rowsToPts(hicDERows), rowsToPts(hicNonRows), -11.7, 11.77, -9.82, 10) },
  { r: [436, 974.3, 270, 226.7], m: { l: 24, r: 12, t: 12, b: 22 }, c: (m: any) => scatterConfig(m, rowsToPts(capDERows), capNonPoints.map(([x, y]) => ({ x, y })), -11.7, 11.96, -9.85, 10) },
];

const T = ({ x, y, s = 13, a = "c", rot = 0, c = "#1c1c1c", b = false, children }: any) => (
  <div style={{ position: "absolute", left: x, top: y, whiteSpace: "nowrap", lineHeight: 1, fontFamily: F, fontSize: s, color: c, fontWeight: b ? 700 : 400,
    transform: `translate(${a === "c" ? "-50%" : a === "r" ? "-100%" : "0"},-50%) rotate(${rot}deg)` }}>{children}</div>
);
const Sub = () => <span style={{ fontSize: ".65em", position: "relative", top: ".3em" }}>2</span>;
const Legend = ({ l, cx, tx }: any) => (
  <>
    <div style={{ position: "absolute", left: l, top: 974.3, width: 107, height: 39, background: "#fff", border: "1px solid #555", boxSizing: "border-box" }} />
    <div style={{ position: "absolute", left: cx - 4, top: 981, width: 8, height: 8, borderRadius: "50%", background: "#f7a560" }} />
    <div style={{ position: "absolute", left: cx - 4, top: 998, width: 8, height: 8, borderRadius: "50%", background: "#bdbdbd" }} />
    <T x={tx} y={985} a="l">DE genes</T>
    <T x={tx} y={1002} a="l">non-DE genes</T>
  </>
);

export default function App() {
  const refs = useRef<(HTMLCanvasElement | null)[]>([]);
  useEffect(() => {
    const charts = PANELS.map((p, i) => new Chart(refs.current[i] as any, p.c(p.m)));
    return () => charts.forEach((c) => c.destroy());
  }, []);
  return (
    <div style={{ position: "absolute", left: 0, top: 0, width: 800, height: 1252, overflow: "hidden", background: "#fff" }}>
      {PANELS.map((p, i) => {
        const [l, t, w, h] = p.r;
        const m = p.m;
        return <canvas key={i} ref={(e) => { refs.current[i] = e; }} width={Math.ceil(w + m.l + m.r)} height={Math.ceil(h + m.t + m.b)}
          style={{ position: "absolute", left: l - m.l, top: t - m.t }} />;
      })}
      <svg width={800} height={170} style={{ position: "absolute", left: 0, top: 0, pointerEvents: "none" }}>
        {[[151, 199], [341.7, 294], [511, 559], [701.7, 654]].map(([a, b], i) => (
          <line key={i} x1={a} y1={145.7} x2={b} y2={163} stroke="#111" strokeWidth={1.2} />
        ))}
      </svg>

      <T x={21} y={25} s={20} b>a</T>
      <T x={401} y={25} s={20} b>b</T>
      <T x={21} y={520} s={20} b>c</T>
      <T x={401} y={520} s={20} b>d</T>
      <T x={21} y={952} s={20} b>e</T>
      <T x={400} y={937} s={20} b>f</T>

      <T x={246} y={25} s={15.2}>Differential Hi-C contacts</T>
      <T x={246} y={41.5}>512 DE genes vs. 4,845 non-DE genes</T>
      <T x={606.5} y={25} s={15.2}>Differential Capture-C contacts</T>
      <T x={606} y={41.5}>221 DE genes vs. 68 non-DE genes</T>
      <T x={84} y={88} rot={-90}>Differential</T>
      <T x={101} y={89} rot={-90}>contact density</T>
      <T x={451} y={89} rot={-90}>Differential</T>
      <T x={467} y={89} rot={-90}>contact density</T>

      <T x={89} y={459}>Gene expression</T>
      <T x={89} y={475}>log<Sub /> fold change</T>
      <T x={246} y={459}>Position from the TSS (kb)</T>
      <T x={449} y={459}>Gene expression</T>
      <T x={449} y={475}>log<Sub /> fold change</T>
      <T x={606} y={459}>Position from the TSS (kb)</T>

      <div style={{ position: "absolute", left: 722, top: 57, width: 17, height: 18, background: "#fdd0a2" }} />
      <div style={{ position: "absolute", left: 722, top: 65.5, width: 17, height: 1.5, background: ORANGE }} />
      <T x={740} y={61.5} a="l">DE</T>
      <T x={740} y={73} a="l">genes</T>
      <div style={{ position: "absolute", left: 722, top: 99, width: 17, height: 17, background: "#e0e0e0" }} />
      <div style={{ position: "absolute", left: 722, top: 106.5, width: 17, height: 1.5, background: "#999" }} />
      <T x={740} y={100} a="l">non-DE</T>
      <T x={740} y={111.5} a="l">genes</T>

      <T x={751} y={216}>Hi-C/</T>
      <T x={751} y={231.5}>Capture-C</T>
      <T x={751} y={246.5}>diff. contact</T>
      <T x={751} y={260.5}>log<Sub /> FC</T>

      <T x={49} y={558} rot={-90} s={13} c="#6aa531">wild-type</T>
      <T x={49} y={626} rot={-90} s={13} c="#4a90c8">balancer</T>
      <T x={43} y={694} rot={-90} s={13} c="#4a90c8">balancer/</T>
      <T x={57} y={695} rot={-90} s={13} c="#6aa531">wild-type</T>
      <T x={54} y={733} s={12.5} a="r" c="#444">DHS</T>
      <T x={41} y={754} s={13.5}>Gene</T>
      <T x={41} y={767} s={13.5}>models</T>
      <T x={38} y={851} s={13.5} rot={-90}>Gene expr.</T>
      <T x={51} y={851} s={13.5} rot={-90}>log<Sub /> FC</T>

      <T x={213} y={946.7} s={15.2}>Differential Hi-C contacts</T>
      <T x={213} y={963}>1,501 gene-differential contact pairs</T>
      <T x={571.5} y={946.7} s={15.2}>Differential Capture-C contacts</T>
      <T x={571} y={963}>908 gene-differential contact pairs</T>
      <T x={213} y={1227}>Hi-C differential contact log<Sub /> fold change</T>
      <T x={569} y={1227}>Capture-C differential contact log<Sub /> fold change</T>
      <T x={47} y={1089} rot={-90}>Gene expression log<Sub /> fold change</T>
      <T x={405} y={1089} rot={-90}>Gene expression log<Sub /> fold change</T>
      <Legend l={78.3} cx={88} tx={97.5} />
      <Legend l={436} cx={447.7} tx={456.7} />
      <T x={342} y={986.5} s={13} a="r"><i>r</i> = 0.07</T>
      <T x={700} y={986.5} s={13} a="r"><i>r</i> = 0.36</T>
    </div>
  );
}
